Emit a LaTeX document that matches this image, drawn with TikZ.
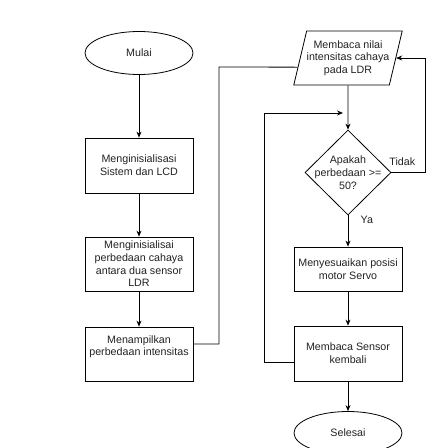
\documentclass[tikz,border=0pt]{standalone}
\usepackage{fontspec}
\setmainfont{Liberation Sans}
\usetikzlibrary{arrows.meta}
\usetikzlibrary{shapes.geometric}
\usetikzlibrary{calc}

\definecolor{inkgray}{HTML}{222222}

\begin{document}
\begin{tikzpicture}[x=1pt, y=-1pt,
    font=\fontsize{10.7}{12.7}\selectfont, text=inkgray,
    box/.style={draw, rectangle, line width=0.8pt, minimum width=108pt, inner sep=1pt, align=center},
    terminal/.style={draw, ellipse, line width=0.8pt, minimum width=108pt, minimum height=43pt, inner sep=0pt},
    io/.style={draw, trapezium, trapezium left angle=70, trapezium right angle=110, trapezium stretches=true,
               line width=0.8pt, minimum width=108pt, minimum height=54pt, inner sep=0pt, align=center},
    decision/.style={draw, diamond, line width=0.8pt, minimum width=86pt, minimum height=85pt, inner sep=0pt},
    flow/.style={line width=0.8pt, -{Stealth[length=6pt, width=5pt]}},
    wire/.style={line width=0.8pt}]

        \clip (0,0) rectangle (435,448);

        \node [terminal] (mulai) at (139,53) {Mulai};
        \node [box, minimum height=55pt] (init) at (139,165.5) {Menginisialisasi\\Sistem dan LCD};
        \node [box, minimum height=54pt] (initdiff) at (139,264) {Menginisialisai\\perbedaan cahaya\\antara dua sensor\\LDR};
        \node [box, minimum height=54pt] (tampil) at (139,354) {Menampilkan\\perbedaan intensitas\\\strut};

        \node [io] (baca) at (348,58) {Membaca nilai\\intensitas cahaya\\pada LDR};
        \node [decision] (cmp) at (348,172.5) {};
        \node [align=center] (cmptext) at (cmp) {Apakah\\perbedaan >=\\50?};
        \node [box, minimum height=44pt] (servo) at (348,269) {Menyesuaikan posisi\\motor Servo};
        \node [box, minimum height=55pt] (bacasensor) at (348,353.5) {Membaca Sensor\\kembali};
        \node [terminal] (selesai) at (348,433) {Selesai};

        \coordinate (leftbus) at (219,67);
        \coordinate (rightbus) at (264,113);
        \coordinate (loopin) at (343,113);

        \draw [flow] (mulai) -- (init);
        \draw [flow] (init) -- (initdiff);
        \draw [flow] (initdiff) -- (tampil);
        \draw [wire] ([yshift=10pt]tampil.east) -| (leftbus)
              -- ($(baca.top left corner)!0.667!(baca.bottom left corner)$);

        \draw [flow] (baca.south) -- (cmp.north);
        \draw [flow] (cmp.east) -- node[pos=0.32, above, yshift=3pt] {Tidak} ++(34,0) |- (baca.east);
        \draw [flow] (cmp.south) -- node[pos=0.15, right, xshift=9pt] {Ya} (servo.north);
        \draw [flow] (servo) -- (bacasensor);
        \draw [flow] (bacasensor) -- (selesai);
        \draw [flow] ([yshift=-9pt]bacasensor.west) -| (rightbus) -- (loopin);

      \end{tikzpicture}
\end{document}
